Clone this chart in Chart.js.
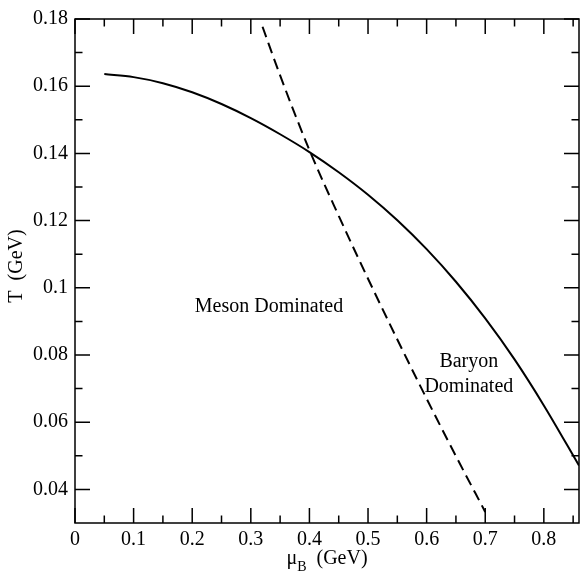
<!DOCTYPE html>
<html>
<head>
<meta charset="utf-8">
<script src="https://cdn.jsdelivr.net/npm/chart.js@4.4.1/dist/chart.umd.min.js"></script>
<style>
html, body { margin: 0; padding: 0; background: #fff; }
</style>
</head>
<body>
<canvas id="phase" width="580" height="572"></canvas>
<script>
// solid curve: T vs mu_B
const curveMu = [0.05, 0.1, 0.15, 0.2, 0.25, 0.3, 0.35, 0.4, 0.45, 0.5, 0.55, 0.6, 0.65, 0.7, 0.75, 0.8, 0.86];
const curveT  = [0.1636, 0.1627, 0.1609, 0.1582, 0.1547, 0.1505, 0.1457, 0.1404, 0.1344, 0.1277, 0.1201, 0.1115, 0.1018, 0.0909, 0.0787, 0.0650, 0.0471];

// dashed line (meson / baryon boundary)
const dashMu = [0.32, 0.35, 0.40, 0.45, 0.50, 0.55, 0.60, 0.65, 0.70];
const dashT  = [0.1777, 0.1632, 0.1410, 0.1214, 0.1027, 0.0846, 0.0670, 0.0499, 0.0333];

const xTicks = [0, 0.1, 0.2, 0.3, 0.4, 0.5, 0.6, 0.7, 0.8];
const xTickLabels = ['0', '0.1', '0.2', '0.3', '0.4', '0.5', '0.6', '0.7', '0.8'];
const xMinor = [0.05, 0.15, 0.25, 0.35, 0.45, 0.55, 0.65, 0.75, 0.85];
const yTicks = [0.04, 0.06, 0.08, 0.1, 0.12, 0.14, 0.16, 0.18];
const yTickLabels = ['0.04', '0.06', '0.08', '0.1', '0.12', '0.14', '0.16', '0.18'];
const yMinor = [0.05, 0.07, 0.09, 0.11, 0.13, 0.15, 0.17];

const serif = "'Liberation Serif', 'Times New Roman', serif";

// label anchors, data coords
const notes = [
    {text: 'Meson Dominated', x: 0.331, y: 0.0944},
    {text: 'Baryon', x: 0.672, y: 0.0780},
    {text: 'Dominated', x: 0.672, y: 0.0706},
];

const frame = {
    id: 'frame',
    afterDraw(chart) {
        const c = chart.ctx;
        const a = chart.chartArea;
        const xs = chart.scales.x, ys = chart.scales.y;
        c.save();
        c.strokeStyle = '#000';
        c.lineWidth = 1.5;
        c.strokeRect(a.left, a.top, a.right - a.left, a.bottom - a.top);

        c.beginPath();
        const tickX = (vals, len) => vals.forEach(v => {
            const p = xs.getPixelForValue(v);
            c.moveTo(p, a.bottom); c.lineTo(p, a.bottom - len);
            c.moveTo(p, a.top); c.lineTo(p, a.top + len);
        });
        const tickY = (vals, len) => vals.forEach(v => {
            const p = ys.getPixelForValue(v);
            c.moveTo(a.left, p); c.lineTo(a.left + len, p);
            c.moveTo(a.right, p); c.lineTo(a.right - len, p);
        });
        tickX(xTicks, 15); tickX(xMinor, 7.5);
        tickY(yTicks, 15); tickY(yMinor, 7.5);
        c.stroke();

        c.fillStyle = '#000';
        c.font = '20px ' + serif;
        c.textAlign = 'center';
        c.textBaseline = 'middle';
        notes.forEach(n => c.fillText(n.text, xs.getPixelForValue(n.x), ys.getPixelForValue(n.y)));

        // x title with subscript
        c.textBaseline = 'alphabetic';
        c.textAlign = 'left';
        const mu = '\u03bc', sub = 'B', rest = '  (GeV)';
        c.font = '20px ' + serif;
        const wMu = c.measureText(mu).width, wRest = c.measureText(rest).width;
        c.font = '14px ' + serif;
        const wSub = c.measureText(sub).width;
        let x0 = (a.left + a.right) / 2 - (wMu + wSub + wRest) / 2;
        const base = 564;
        c.font = '20px ' + serif;
        c.fillText(mu, x0, base);
        c.font = '14px ' + serif;
        c.fillText(sub, x0 + wMu, base + 7);
        c.font = '20px ' + serif;
        c.fillText(rest, x0 + wMu + wSub, base);

        // y title
        c.save();
        c.translate(17, 266);
        c.rotate(-Math.PI / 2);
        c.textAlign = 'center';
        c.textBaseline = 'middle';
        c.fillText('T  (GeV)', 0, 0);
        c.restore();
        c.restore();
    }
};

new Chart(document.getElementById('phase').getContext('2d'), {
    type: 'scatter',
    data: {
        datasets: [
            {
                data: curveMu.map((x, i) => ({x: x, y: curveT[i]})),
                showLine: true,
                borderColor: '#000',
                borderWidth: 2,
                pointRadius: 0,
                cubicInterpolationMode: 'monotone',
            },
            {
                data: dashMu.map((x, i) => ({x: x, y: dashT[i]})),
                showLine: true,
                borderColor: '#000',
                borderWidth: 2,
                borderDash: [11, 6],
                pointRadius: 0,
                cubicInterpolationMode: 'monotone',
            },
        ],
    },
    options: {
        responsive: false,
        animation: false,
        layout: {padding: {top: 18, right: 1, left: 0, bottom: 0}},
        plugins: {legend: {display: false}, tooltip: {enabled: false}},
        scales: {
            x: {
                type: 'linear',
                min: 0,
                max: 0.86,
                afterBuildTicks: s => { s.ticks = xTicks.map(v => ({value: v})); },
                afterFit: s => { s.height = 49; },
                grid: {display: false, drawTicks: false},
                border: {display: false},
                ticks: {
                    padding: 5,
                    color: '#000',
                    font: {family: serif, size: 20},
                    maxRotation: 0,
                    autoSkip: false,
                    callback: (v, i) => xTickLabels[i],
                },
            },
            y: {
                type: 'linear',
                min: 0.03,
                max: 0.18,
                afterBuildTicks: s => { s.ticks = yTicks.map(v => ({value: v})); },
                afterFit: s => { s.width = 75; },
                grid: {display: false, drawTicks: false},
                border: {display: false},
                ticks: {
                    padding: 7,
                    color: '#000',
                    font: {family: serif, size: 20},
                    autoSkip: false,
                    callback: (v, i) => yTickLabels[i],
                },
            },
        },
    },
    plugins: [frame],
});
</script>
</body>
</html>
